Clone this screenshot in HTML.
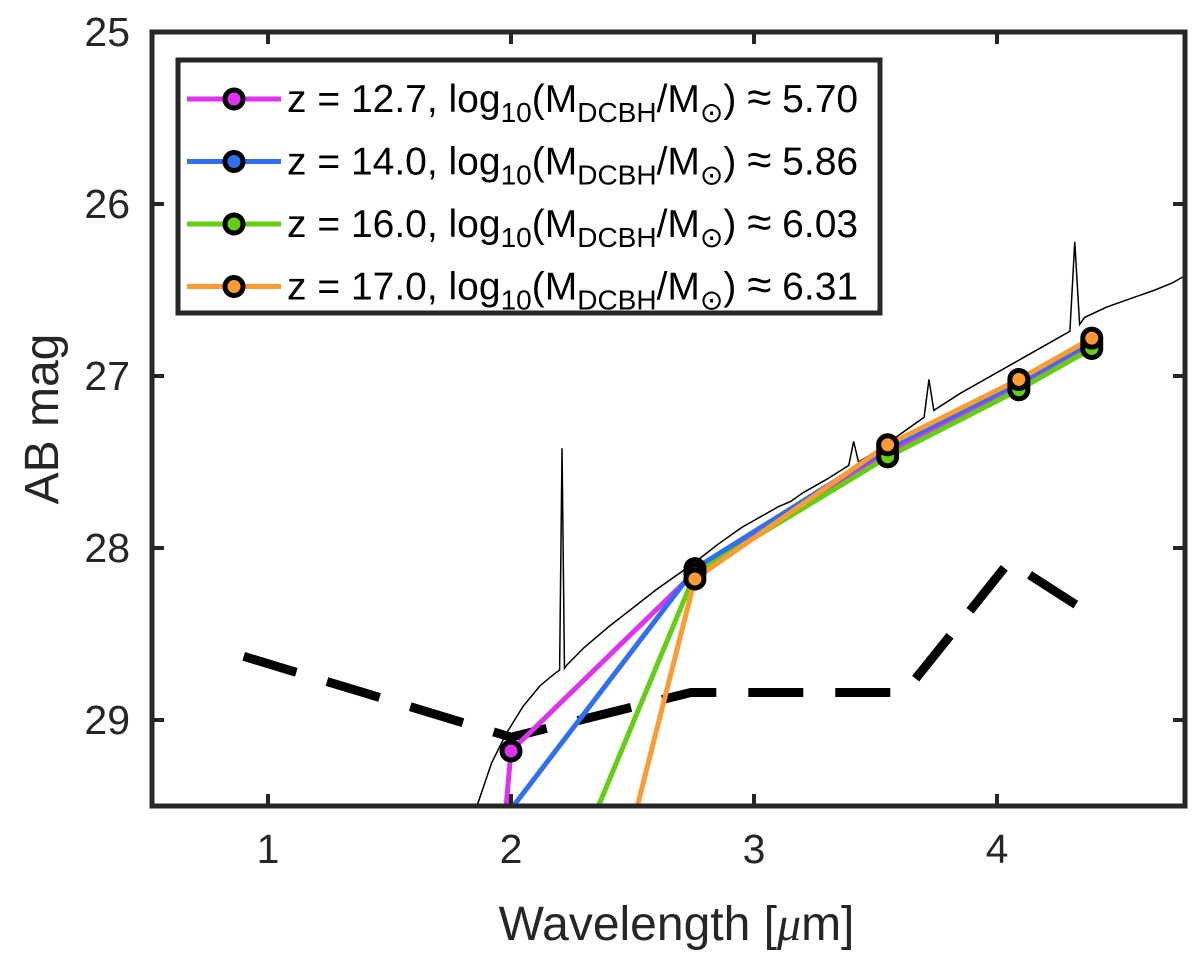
<!DOCTYPE html>
<html><head><meta charset="utf-8"><style>
body{margin:0;background:#fff}
svg text{font-family:"Liberation Sans",sans-serif;fill:#262626}
</style></head><body>
<svg id="c" width="1200" height="962" xmlns="http://www.w3.org/2000/svg"></svg>
<script>
const xTicks=[1,2,3,4];
const yTicks=[25,26,27,28,29];
const bandX=[2.0,2.757,3.55,4.09,4.39];
const names=["z = 12.7","z = 14.0","z = 16.0","z = 17.0"];
const masses=["5.70","5.86","6.03","6.31"];
const colors=["#e030f0","#2f6ff5","#60d010","#ff9a30"];
const dropX=[1.98,2.01,2.36,2.52];
const seriesMag=[
 [29.18,28.14,27.45,27.06,26.82],
 [null,28.12,27.42,27.04,26.80],
 [null,28.15,27.47,27.08,26.84],
 [null,28.18,27.40,27.02,26.78]];
const limX=[0.9,2.0,2.74,3.62,4.05,4.38];
const limMag=[28.63,29.1,28.84,28.84,28.08,28.38];
const sedX=[1.86,1.92,1.98,2.05,2.12,2.18,2.2,2.21,2.22,2.23,2.3,2.4,2.5,2.6,2.7,2.76,2.85,2.95,3.0,3.05,3.1,3.15,3.2,3.25,3.3,3.39,3.41,3.43,3.5,3.6,3.7,3.72,3.74,3.85,4.0,4.1,4.2,4.3,4.32,4.34,4.36,4.45,4.55,4.65,4.72,4.77];
const sedMag=[29.5,29.25,29.08,28.92,28.8,28.73,28.71,27.42,28.7,28.68,28.58,28.46,28.35,28.24,28.14,28.08,27.98,27.88,27.84,27.8,27.76,27.73,27.68,27.64,27.6,27.52,27.38,27.5,27.44,27.34,27.24,27.02,27.2,27.1,26.98,26.9,26.82,26.74,26.22,26.7,26.66,26.6,26.55,26.5,26.46,26.42];

const L=152,R=1185,T=32,B=806;
const X=v=>268+(v-1)*243;
const Y=m=>32+(m-25)*172;
const svg=document.getElementById('c');
const NS="http://www.w3.org/2000/svg";
function mk(t,a,p){const e=document.createElementNS(NS,t);for(const k in a)e.setAttribute(k,a[k]);(p||svg).appendChild(e);return e;}
const defs=mk('defs',{});const cp=mk('clipPath',{id:'cp'},defs);mk('rect',{x:L,y:T,width:R-L,height:B-T},cp);
const g=mk('g',{'clip-path':'url(#cp)'});
let d=sedX.map((x,i)=>(i?'L':'M')+X(x)+','+Y(sedMag[i])).join(' ');
let e=mk('path',{d:d,fill:'none',stroke:'#000','stroke-width':1.5},g);


d=limX.map((x,i)=>(i?'L':'M')+X(x)+','+Y(limMag[i])).join(' ');
e=mk('path',{d:d,fill:'none',stroke:'#000','stroke-width':9,'stroke-dasharray':'55,32'},g);


seriesMag.forEach((s,k)=>{
 let pts=[[X(dropX[k]),Y(29.5)]];
 s.forEach((m,i)=>{if(m!==null)pts.push([X(bandX[i]),Y(m)]);});
 const p=mk('path',{d:pts.map((q,i)=>(i?'L':'M')+q[0]+','+q[1]).join(' '),fill:'none',stroke:colors[k],'stroke-width':5},g);
 
 
});
seriesMag.forEach((s,k)=>{s.forEach((m,i)=>{if(m===null)return;
 const c=mk('circle',{cx:X(bandX[i]),cy:Y(m),r:9,fill:colors[k],stroke:'#000','stroke-width':5},g);
 
 });});
e=mk('rect',{x:L,y:T,width:R-L,height:B-T,fill:'none',stroke:'#262626','stroke-width':5});


xTicks.forEach(v=>{mk('line',{x1:X(v),x2:X(v),y1:B,y2:B-12,stroke:'#262626','stroke-width':4});mk('line',{x1:X(v),x2:X(v),y1:T,y2:T+12,stroke:'#262626','stroke-width':4});
 const t=mk('text',{x:X(v),y:B+57,'text-anchor':'middle','font-size':41});t.textContent=v;
 
 });
yTicks.forEach(v=>{mk('line',{x1:L,x2:L+12,y1:Y(v),y2:Y(v),stroke:'#262626','stroke-width':4});mk('line',{x1:R,x2:R-12,y1:Y(v),y2:Y(v),stroke:'#262626','stroke-width':4});
 const t=mk('text',{x:L-22,y:Y(v)+14,'text-anchor':'end','font-size':41});t.textContent=v;
 
 });
let t=mk('text',{x:(L+R)/2+8,y:940,'text-anchor':'middle','font-size':48});t.innerHTML='Wavelength [<tspan font-family="Liberation Serif" font-style="italic">μ</tspan>m]';


t=mk('text',{x:0,y:0,'text-anchor':'middle','font-size':48,transform:'translate(58,419) rotate(-90)'});t.textContent='AB mag';


const lg=mk('g',{});


mk('rect',{x:178,y:60,width:702,height:253,fill:'#fff',stroke:'#262626','stroke-width':5},lg);
names.forEach((n,k)=>{const y=99+k*62.5;
 const eg=mk('g',{},lg);
 
 
 mk('line',{x1:187,x2:281,y1:y,y2:y,stroke:colors[k],'stroke-width':5},eg);
 mk('circle',{cx:234,cy:y,r:9,fill:colors[k],stroke:'#000','stroke-width':5},eg);
 const tx=mk('text',{x:287,y:y+13,'font-size':39,style:'fill:#000'},eg);
 tx.innerHTML=n+', log<tspan font-size="28" dy="10">10</tspan><tspan dy="-10">(M</tspan><tspan font-size="28" dy="10">DCBH</tspan><tspan dy="-10">/M</tspan><tspan font-size="28" dy="10">⊙</tspan><tspan dy="-10">) </tspan><tspan font-size="44">≈</tspan><tspan> '+masses[k]+'</tspan>';
});
</script>
</body></html>
